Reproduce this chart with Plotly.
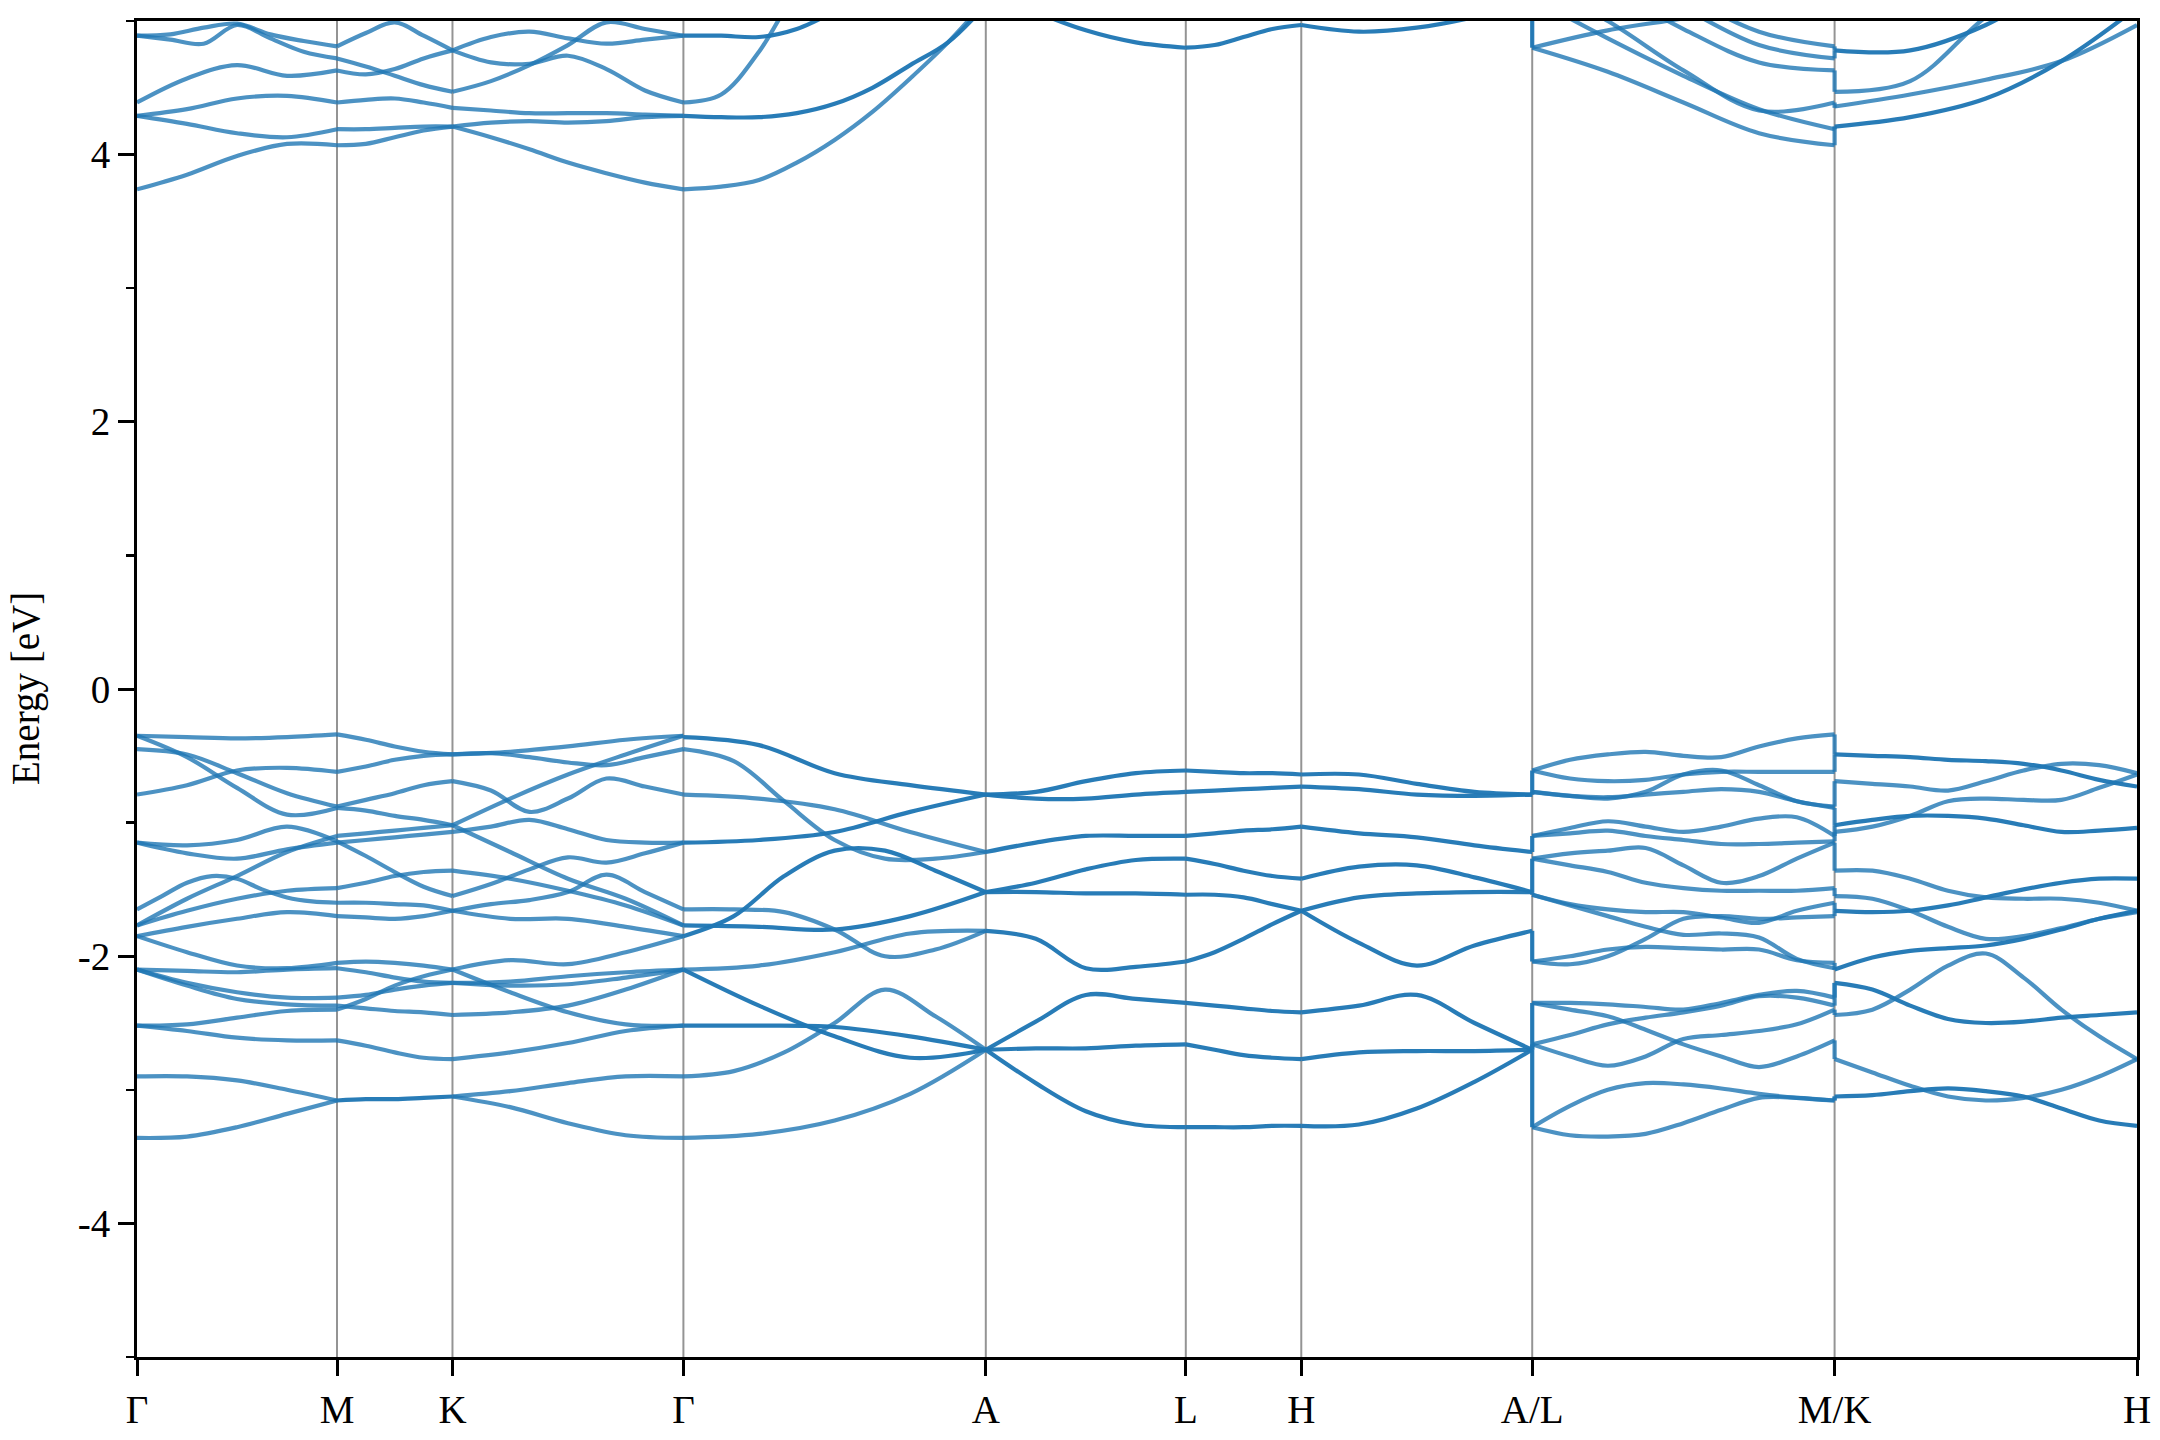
import numpy as np
import plotly.graph_objects as go

# ---------------- data ----------------
k_ticks = [0.0, 1.0, 1.57735, 2.73205, 4.24405, 5.24405, 5.82140, 6.97611, 8.48811, 10.00011]
k_labels = ["Γ", "M", "K", "Γ", "A", "L", "H", "A/L", "M/K", "H"]

# each entry: (degeneracy, energies [eV] at evenly spaced k along the segment)
seg_GM = [
    (1, [-0.35, -0.36, -0.37, -0.36, -0.34]),
    (1, [-0.35, -0.51, -0.74, -0.94, -0.89]),
    (1, [-0.45, -0.49, -0.63, -0.78, -0.88]),
    (1, [-0.79, -0.72, -0.61, -0.59, -0.62]),
    (1, [-1.15, -1.17, -1.13, -1.03, -1.14]),
    (1, [-1.15, -1.23, -1.27, -1.20, -1.15]),
    (1, [-1.77, -1.57, -1.40, -1.22, -1.10]),
    (1, [-1.65, -1.55, -1.45, -1.40, -1.42, -1.50, -1.56, -1.59, -1.60]),
    (1, [-1.77, -1.66, -1.57, -1.51, -1.49]),
    (1, [-1.85, -1.78, -1.72, -1.67, -1.70]),
    (1, [-1.85, -1.97, -2.07, -2.09, -2.05]),
    (1, [-2.10, -2.11, -2.12, -2.10, -2.09]),
    (1, [-2.10, -2.20, -2.27, -2.31, -2.31]),
    (1, [-2.10, -2.22, -2.32, -2.36, -2.37]),
    (1, [-2.52, -2.51, -2.46, -2.41, -2.40]),
    (1, [-2.52, -2.56, -2.61, -2.63, -2.63]),
    (1, [-2.90, -2.90, -2.93, -3.00, -3.08]),
    (1, [-3.36, -3.35, -3.28, -3.18, -3.08]),
    (1, [4.89, 4.90, 4.95, 4.98, 4.90, 4.85, 4.81]),
    (1, [4.89, 4.86, 4.83, 4.97, 4.87, 4.77, 4.72]),
    (1, [4.39, 4.57, 4.67, 4.59, 4.63]),
    (1, [4.29, 4.34, 4.42, 4.44, 4.39]),
    (1, [4.29, 4.23, 4.16, 4.13, 4.19]),
    (1, [3.74, 3.85, 3.99, 4.08, 4.07]),
]

seg_MK = [
    (1, [-0.34, -0.38, -0.43, -0.47, -0.49]),
    (1, [-0.62, -0.58, -0.53, -0.50, -0.49]),
    (1, [-0.88, -0.83, -0.78, -0.72, -0.69]),
    (1, [-0.89, -0.91, -0.95, -0.98, -1.02]),
    (1, [-1.10, -1.08, -1.06, -1.04, -1.02]),
    (1, [-1.15, -1.13, -1.11, -1.09, -1.07]),
    (1, [-1.14, -1.25, -1.37, -1.48, -1.55]),
    (1, [-1.49, -1.45, -1.40, -1.37, -1.36]),
    (1, [-1.60, -1.60, -1.61, -1.62, -1.66]),
    (1, [-1.70, -1.71, -1.72, -1.70, -1.66]),
    (1, [-2.05, -2.04, -2.05, -2.07, -2.10]),
    (1, [-2.09, -2.12, -2.16, -2.19, -2.20]),
    (1, [-2.31, -2.29, -2.25, -2.22, -2.20]),
    (1, [-2.40, -2.32, -2.22, -2.15, -2.10]),
    (1, [-2.37, -2.39, -2.41, -2.42, -2.44]),
    (1, [-2.63, -2.67, -2.72, -2.76, -2.77]),
    (2, [-3.08, -3.07, -3.07, -3.06, -3.05]),
    (1, [4.81, 4.91, 4.99, 4.89, 4.78]),
    (1, [4.72, 4.66, 4.59, 4.52, 4.47]),
    (1, [4.63, 4.60, 4.64, 4.72, 4.78]),
    (1, [4.39, 4.41, 4.42, 4.39, 4.35]),
    (1, [4.19, 4.19, 4.20, 4.21, 4.21]),
    (1, [4.07, 4.08, 4.13, 4.18, 4.21]),
]

seg_KG = [
    (1, [-0.49, -0.47, -0.43, -0.38, -0.35]),
    (1, [-0.49, -0.48, -0.51, -0.55, -0.57, -0.51, -0.45]),
    (1, [-1.02, -0.82, -0.64, -0.49, -0.35]),
    (1, [-0.69, -0.76, -0.92, -0.82, -0.67, -0.73, -0.79]),
    (1, [-1.07, -1.03, -0.98, -1.05, -1.13, -1.15, -1.15]),
    (1, [-1.02, -1.22, -1.42, -1.57, -1.77]),
    (1, [-1.36, -1.42, -1.51, -1.62, -1.77]),
    (1, [-1.55, -1.46, -1.35, -1.26, -1.30, -1.23, -1.15]),
    (1, [-1.66, -1.61, -1.58, -1.52, -1.39, -1.52, -1.65]),
    (1, [-1.66, -1.72, -1.72, -1.78, -1.85]),
    (1, [-2.10, -2.03, -2.06, -1.97, -1.85]),
    (1, [-2.10, -2.27, -2.42, -2.51, -2.52]),
    (1, [-2.20, -2.22, -2.21, -2.16, -2.10]),
    (1, [-2.20, -2.19, -2.15, -2.12, -2.10]),
    (1, [-2.44, -2.42, -2.37, -2.25, -2.10]),
    (1, [-2.77, -2.72, -2.65, -2.56, -2.52]),
    (1, [-3.05, -3.01, -2.95, -2.90, -2.90]),
    (1, [-3.05, -3.13, -3.25, -3.34, -3.36]),
    (1, [4.78, 4.69, 4.68, 4.74, 4.64, 4.48, 4.39]),
    (1, [4.78, 4.88, 4.92, 4.87, 4.83, 4.86, 4.89]),
    (1, [4.47, 4.55, 4.67, 4.82, 4.99, 4.94, 4.89]),
    (1, [4.35, 4.33, 4.31, 4.31, 4.31, 4.30, 4.29]),
    (1, [4.21, 4.24, 4.25, 4.24, 4.25, 4.28, 4.29]),
    (1, [4.21, 4.13, 4.04, 3.94, 3.86, 3.79, 3.74]),
]

seg_GA = [
    (2, [-0.36, -0.42, -0.63, -0.72, -0.79]),
    (1, [-0.45, -0.54, -0.84, -1.13, -1.27, -1.27, -1.22]),
    (1, [-0.79, -0.82, -0.90, -1.07, -1.22]),
    (2, [-1.15, -1.13, -1.07, -0.92, -0.79]),
    (2, [-1.85, -1.70, -1.40, -1.21, -1.21, -1.36, -1.52]),
    (1, [-1.65, -1.65, -1.67, -1.80, -2.00, -1.95, -1.81]),
    (2, [-1.77, -1.78, -1.80, -1.70, -1.52]),
    (1, [-2.10, -2.07, -1.97, -1.83, -1.81]),
    (2, [-2.10, -2.37, -2.60, -2.76, -2.70]),
    (2, [-2.52, -2.52, -2.53, -2.60, -2.70]),
    (1, [-2.90, -2.86, -2.72, -2.50, -2.25, -2.45, -2.70]),
    (1, [-3.36, -3.33, -3.23, -3.03, -2.70]),
    (2, [4.89, 4.89, 4.88, 4.94, 5.07, 5.20, 5.32, 5.45, 5.57]),
    (1, [4.39, 4.45, 4.77, 5.22, 5.50, 5.70, 5.90, 6.00, 6.10]),
    (2, [4.29, 4.28, 4.28, 4.31, 4.38, 4.50, 4.67, 4.84, 5.12]),
    (1, [3.74, 3.76, 3.81, 3.94, 4.11, 4.32, 4.57, 4.84, 5.15]),
]

seg_AL = [
    (2, [-0.79, -0.77, -0.69, -0.63, -0.61]),
    (2, [-0.79, -0.82, -0.82, -0.79, -0.77]),
    (2, [-1.22, -1.15, -1.10, -1.10, -1.10]),
    (2, [-1.52, -1.45, -1.35, -1.28, -1.27]),
    (2, [-1.52, -1.52, -1.53, -1.53, -1.54]),
    (2, [-1.81, -1.87, -2.09, -2.08, -2.04]),
    (2, [-2.70, -2.49, -2.29, -2.32, -2.35]),
    (2, [-2.70, -2.69, -2.69, -2.67, -2.66]),
    (2, [-2.70, -2.95, -3.16, -3.26, -3.28]),
    (2, [5.25, 5.07, 4.93, 4.84, 4.80]),
]

seg_LH = [
    (2, [-0.61, -0.62, -0.63, -0.63, -0.64]),
    (2, [-0.77, -0.76, -0.75, -0.74, -0.73]),
    (2, [-1.10, -1.08, -1.06, -1.05, -1.03]),
    (2, [-1.27, -1.31, -1.36, -1.40, -1.42]),
    (2, [-1.54, -1.54, -1.56, -1.61, -1.66]),
    (2, [-2.04, -1.97, -1.87, -1.76, -1.66]),
    (2, [-2.35, -2.37, -2.39, -2.41, -2.42]),
    (2, [-2.66, -2.70, -2.74, -2.76, -2.77]),
    (2, [-3.28, -3.28, -3.28, -3.27, -3.27]),
    (2, [4.80, 4.82, 4.88, 4.94, 4.97]),
]

seg_HA = [
    (2, [-0.64, -0.64, -0.71, -0.77, -0.79]),
    (2, [-0.73, -0.75, -0.79, -0.80, -0.79]),
    (2, [-1.03, -1.08, -1.11, -1.17, -1.22]),
    (2, [-1.42, -1.33, -1.32, -1.41, -1.52]),
    (2, [-1.66, -1.56, -1.53, -1.52, -1.52]),
    (2, [-1.66, -1.90, -2.07, -1.92, -1.81]),
    (2, [-2.42, -2.37, -2.29, -2.50, -2.70]),
    (2, [-2.77, -2.72, -2.71, -2.71, -2.70]),
    (2, [-3.27, -3.26, -3.14, -2.94, -2.70]),
    (2, [4.97, 4.92, 4.95, 5.03, 5.15]),
]

seg_LM = [
    (1, [-0.61, -0.53, -0.49, -0.47, -0.50, -0.51, -0.43, -0.37, -0.34]),
    (1, [-0.61, -0.67, -0.69, -0.68, -0.64, -0.62, -0.62, -0.62, -0.62]),
    (1, [-0.77, -0.80, -0.82, -0.77, -0.64, -0.61, -0.72, -0.84, -0.88]),
    (1, [-0.77, -0.80, -0.81, -0.79, -0.77, -0.75, -0.77, -0.84, -0.89]),
    (1, [-1.10, -1.04, -0.99, -1.03, -1.07, -1.03, -0.97, -0.96, -1.10]),
    (1, [-1.10, -1.08, -1.06, -1.10, -1.13, -1.16, -1.16, -1.15, -1.14]),
    (1, [-1.27, -1.23, -1.21, -1.19, -1.32, -1.45, -1.40, -1.27, -1.15]),
    (1, [-1.27, -1.32, -1.37, -1.45, -1.49, -1.51, -1.51, -1.51, -1.49]),
    (1, [-1.54, -1.61, -1.65, -1.67, -1.67, -1.71, -1.75, -1.66, -1.60]),
    (1, [-1.54, -1.62, -1.70, -1.78, -1.84, -1.83, -1.86, -2.02, -2.09]),
    (1, [-2.04, -2.00, -1.95, -1.93, -1.94, -1.95, -1.95, -2.03, -2.05]),
    (1, [-2.04, -2.06, -2.00, -1.87, -1.72, -1.70, -1.72, -1.71, -1.70]),
    (1, [-2.35, -2.35, -2.36, -2.38, -2.40, -2.35, -2.29, -2.26, -2.31]),
    (1, [-2.35, -2.40, -2.45, -2.55, -2.66, -2.75, -2.83, -2.75, -2.63]),
    (1, [-2.66, -2.59, -2.51, -2.46, -2.42, -2.37, -2.30, -2.31, -2.37]),
    (1, [-2.66, -2.75, -2.82, -2.75, -2.62, -2.59, -2.56, -2.51, -2.40]),
    (1, [-3.28, -3.12, -3.00, -2.95, -2.96, -2.99, -3.03, -3.06, -3.08]),
    (1, [-3.28, -3.34, -3.35, -3.33, -3.25, -3.15, -3.06, -3.06, -3.08]),
    (1, [4.80, 4.93, 5.02, 5.12, 5.20]),
    (1, [4.80, 4.62, 4.39, 4.16, 4.07]),
    (1, [5.17, 4.87, 4.59, 4.34, 4.19]),
    (1, [5.30, 5.00, 4.63, 4.33, 4.39]),
    (1, [5.55, 5.25, 4.94, 4.69, 4.63]),
    (1, [5.67, 5.42, 5.10, 4.82, 4.72]),
    (1, [5.80, 5.55, 5.20, 4.92, 4.81]),
]

seg_KH = [
    (2, [-0.49, -0.50, -0.51, -0.53, -0.54, -0.56, -0.61, -0.68, -0.73]),
    (1, [-0.69, -0.71, -0.73, -0.76, -0.69, -0.61, -0.56, -0.57, -0.63]),
    (1, [-1.07, -1.03, -0.95, -0.84, -0.82, -0.83, -0.83, -0.74, -0.64]),
    (2, [-1.02, -0.98, -0.95, -0.95, -0.97, -1.02, -1.07, -1.06, -1.04]),
    (1, [-1.36, -1.36, -1.42, -1.51, -1.56, -1.57, -1.57, -1.60, -1.66]),
    (1, [-1.55, -1.57, -1.66, -1.78, -1.87, -1.85, -1.79, -1.72, -1.67]),
    (2, [-1.66, -1.67, -1.66, -1.62, -1.56, -1.50, -1.45, -1.42, -1.42]),
    (2, [-2.10, -2.01, -1.96, -1.94, -1.92, -1.87, -1.80, -1.72, -1.66]),
    (2, [-2.20, -2.25, -2.37, -2.47, -2.50, -2.49, -2.46, -2.44, -2.42]),
    (1, [-2.44, -2.40, -2.25, -2.07, -1.98, -2.16, -2.40, -2.60, -2.77]),
    (1, [-2.77, -2.87, -2.97, -3.05, -3.08, -3.06, -3.00, -2.90, -2.77]),
    (2, [-3.05, -3.04, -3.01, -2.99, -3.01, -3.05, -3.14, -3.23, -3.27]),
    (2, [4.78, 4.78, 4.97, 5.30, 5.60]),
    (1, [4.47, 4.55, 5.03, 5.40, 5.70]),
    (1, [4.36, 4.45, 4.56, 4.70, 4.97]),
    (2, [4.21, 4.28, 4.42, 4.70, 5.10]),
]

# band continuations across the path breaks (value before -> value after)
jump_AL = [(-0.79, -0.61), (-0.79, -0.77), (-1.22, -1.10), (-1.52, -1.27), (-1.52, -1.54),
           (-1.81, -2.04), (-2.70, -2.35), (-2.70, -2.66), (-2.70, -3.28), (5.30, 4.80)]
jump_MK = [(-0.34, -0.49), (-0.62, -0.49), (-0.88, -0.69), (-0.89, -1.02), (-1.10, -1.02),
           (-1.14, -1.07), (-1.15, -1.36), (-1.49, -1.55), (-1.60, -1.66), (-1.70, -1.66),
           (-2.05, -2.10), (-2.09, -2.10), (-2.31, -2.20), (-2.37, -2.20), (-2.40, -2.44),
           (-2.63, -2.77), (-3.08, -3.05), (-3.08, -3.05),
           (4.07, 4.21), (4.19, 4.21), (4.39, 4.35), (4.63, 4.47), (4.72, 4.78), (4.81, 4.78)]

y_ticks = [-4, -2, 0, 2, 4]
y_ticklabels = ["-4", "-2", "0", "2", "4"]

# ---------------- figure ----------------
FONT = "Liberation Serif, Times New Roman, serif"
COL = {1: "rgba(31,119,180,0.80)", 2: "rgba(31,119,180,0.96)"}
LW = 4.2

segments = [(0, 1, seg_GM), (1, 2, seg_MK), (2, 3, seg_KG), (3, 4, seg_GA), (4, 5, seg_AL),
            (5, 6, seg_LH), (6, 7, seg_HA), (7, 8, seg_LM), (8, 9, seg_KH)]

fig = go.Figure()
for i0, i1, curves in segments:
    for mult, vals in curves:
        xs = np.linspace(k_ticks[i0], k_ticks[i1], len(vals))
        fig.add_trace(go.Scatter(
            x=xs, y=vals, mode="lines",
            line=dict(color=COL[mult], width=LW, shape="spline", smoothing=1.0),
            hoverinfo="skip", showlegend=False))

for kpos, jumps, mult in [(k_ticks[7], jump_AL, 2), (k_ticks[8], jump_MK, 1)]:
    for a, b in jumps:
        fig.add_trace(go.Scatter(
            x=[kpos, kpos], y=[a, b], mode="lines",
            line=dict(color=COL[mult], width=LW),
            hoverinfo="skip", showlegend=False))

for kv in k_ticks[1:-1]:
    fig.add_shape(type="line", xref="x", yref="paper", x0=kv, x1=kv, y0=0, y1=1,
                  line=dict(color="rgba(0,0,0,0.42)", width=2), layer="below")

fig.add_annotation(text="Energy [eV]", xref="paper", yref="paper", x=-0.0555, y=0.5,
                   textangle=-90, showarrow=False, xanchor="center", yanchor="middle",
                   font=dict(family=FONT, size=39, color="black"))

fig.update_layout(
    width=2160, height=1440,
    margin=dict(l=137, r=23, t=21, b=83, autoexpand=False),
    paper_bgcolor="white", plot_bgcolor="white",
    font=dict(family=FONT, size=39, color="black"),
    xaxis=dict(range=[k_ticks[0], k_ticks[-1]], tickmode="array", tickvals=k_ticks,
               ticktext=k_labels, ticks="outside", ticklen=16, tickwidth=3, tickcolor="black",
               showline=True, linewidth=3, linecolor="black", mirror=True, automargin=False,
               showgrid=False, zeroline=False, tickfont=dict(family=FONT, size=39)),
    yaxis=dict(range=[-5, 5], tickmode="array", tickvals=y_ticks, ticktext=y_ticklabels,
               ticks="outside", ticklen=16, tickwidth=3, tickcolor="black",
               minor=dict(dtick=1, tick0=0, ticks="outside", ticklen=8, tickwidth=2.5,
                          tickcolor="black", showgrid=False),
               showline=True, linewidth=3, linecolor="black", mirror=True, automargin=False,
               showgrid=False, zeroline=False, tickfont=dict(family=FONT, size=39)),
)

# remove the default page margin so the figure fills the window exactly
fig.write_html("out.html",
               config={"displayModeBar": False, "staticPlot": True},
               post_script="document.body.style.margin='0';document.body.style.overflow='hidden';")
